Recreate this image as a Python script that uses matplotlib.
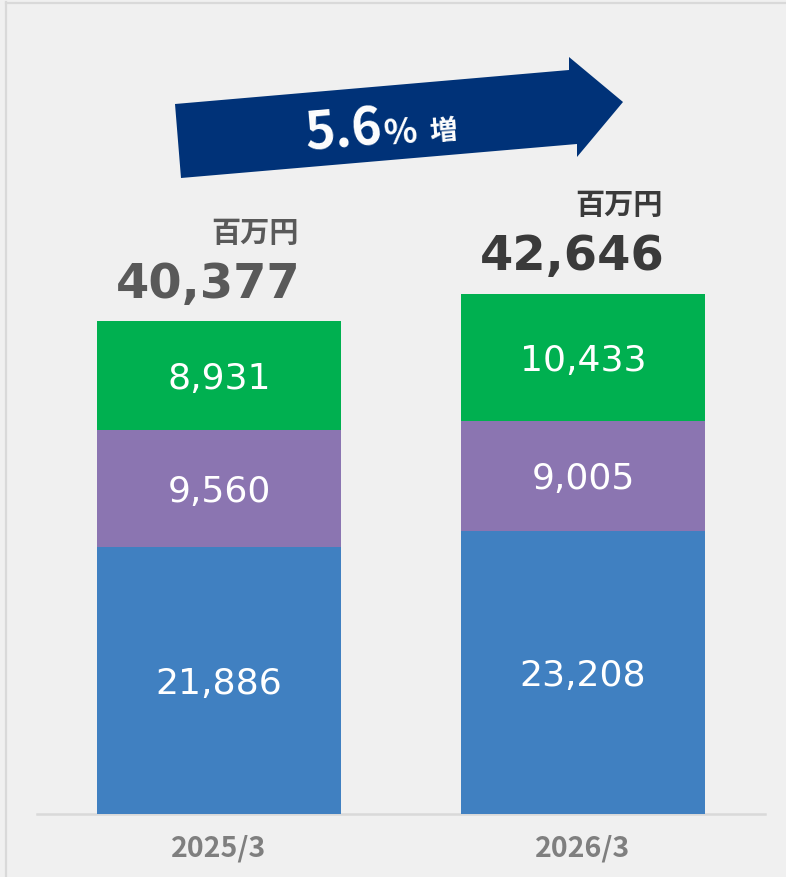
import matplotlib.pyplot as plt
import matplotlib.transforms as mtransforms
from matplotlib.patches import Polygon
from matplotlib.lines import Line2D

# data
periods = ['2025/3', '2026/3']
seg_blue = [21886, 23208]
seg_purple = [9560, 9005]
seg_green = [8931, 10433]
totals = [40377, 42646]
growth_label = '5.6'

W, H = 786, 877
fig = plt.figure(figsize=(W / 100, H / 100), dpi=100)
fig.patch.set_facecolor('#f0f0f0')

# pixel -> figure fraction (origin top-left)
px = mtransforms.Affine2D().scale(1 / W, -1 / H).translate(0, 1) + fig.transFigure

# light frame on top / left
fig.add_artist(Line2D([6, 6], [2, H], transform=px, color='#d9d9d9', lw=1.6))
fig.add_artist(Line2D([6, W], [2.5, 2.5], transform=px, color='#d9d9d9', lw=1.6))

ax = fig.add_axes([37 / W, 1 - 814 / H, 728 / W, 814 / H])
ax.patch.set_alpha(0)

x = range(len(periods))
width = 0.668
blue = '#4080c1'
purple = '#8b75b1'
green = '#00b050'

b1 = ax.bar(x, seg_blue, width, color=blue, zorder=2)
b2 = ax.bar(x, seg_purple, width, bottom=seg_blue, color=purple, zorder=2)
bottom3 = [a + b for a, b in zip(seg_blue, seg_purple)]
b3 = ax.bar(x, seg_green, width, bottom=bottom3, color=green, zorder=2)

for bars, vals in [(b1, seg_blue), (b2, seg_purple), (b3, seg_green)]:
    for rect, v in zip(bars, vals):
        ax.annotate(f'{v:,}', (rect.get_x() + rect.get_width() / 2,
                               rect.get_y() + rect.get_height() / 2),
                    xytext=(0, -2.5), textcoords='offset points',
                    ha='center', va='center', color='white', fontsize=26,
                    family='DejaVu Sans')

# totals + unit
total_colors = ['#595959', '#3a3a3a']
for i, t in enumerate(totals):
    xr = i + width / 2
    ax.annotate(f'{t:,}', (xr, t), xytext=(-29, 17), textcoords='offset points',
                ha='right', va='baseline', fontsize=34.5, fontweight='bold',
                color=total_colors[i], family='DejaVu Sans')
    ax.annotate('百万円', (xr, t), xytext=(-30, 57), textcoords='offset points',
                ha='right', va='baseline', fontsize=21, fontweight='bold',
                color=total_colors[i], family=['Noto Sans CJK JP', 'DejaVu Sans'])

ax.set_xlim(-0.5, 1.5)
ax.set_ylim(0, 66700)
ax.set_yticks([])
ax.set_xticks(list(x))
ax.set_xticklabels(periods, fontsize=20.5, fontweight='bold', color='#7f7f7f',
                   family=['Noto Sans CJK JP', 'DejaVu Sans'])
ax.tick_params(axis='x', length=0, pad=15)
for s in ['top', 'right', 'left']:
    ax.spines[s].set_visible(False)
ax.spines['bottom'].set_color('#d9d9d9')
ax.spines['bottom'].set_linewidth(1.8)
ax.spines['bottom'].set_zorder(1)

# growth arrow
arrow_pts = [(175, 104), (569, 70), (569, 57), (623, 102), (577, 157), (577, 144), (181, 178)]
fig.add_artist(Polygon(arrow_pts, closed=True, transform=px, facecolor='#003278',
                       edgecolor='none'))
rot = 4.9
fig.text(307, 151, growth_label, transform=px, rotation=rot, rotation_mode='anchor',
         ha='left', va='baseline', color='white', fontsize=37, fontweight='bold',
         family=['Noto Sans CJK JP', 'DejaVu Sans'])
fig.text(385, 145, '%', transform=px, rotation=rot, rotation_mode='anchor',
         ha='left', va='baseline', color='white', fontsize=25, fontweight='bold',
         family=['Noto Sans CJK JP', 'DejaVu Sans'])
fig.text(430, 141, '増', transform=px, rotation=rot, rotation_mode='anchor',
         ha='left', va='baseline', color='white', fontsize=20, fontweight='bold',
         family=['Noto Sans CJK JP', 'DejaVu Sans'])

fig.savefig('out.png', dpi=100, facecolor=fig.get_facecolor())
